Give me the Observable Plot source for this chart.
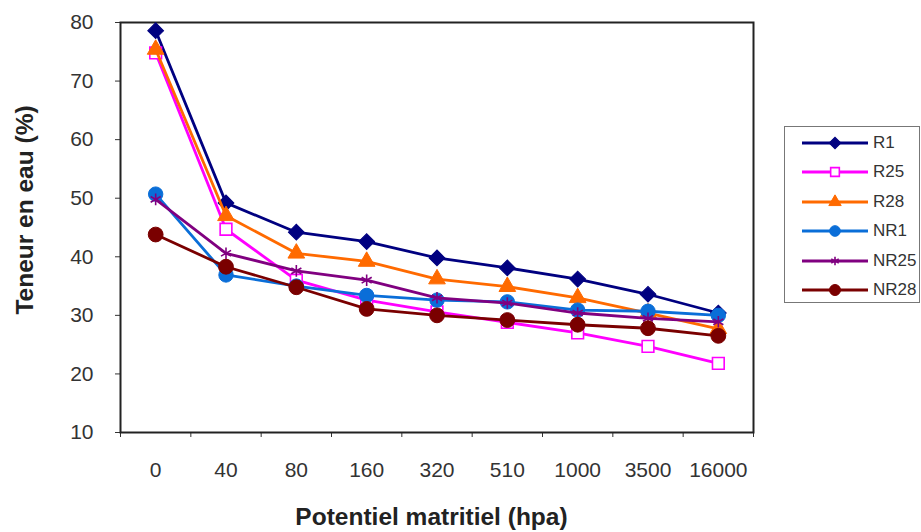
<!DOCTYPE html>
<html><head><meta charset="utf-8">
<script src="https://cdn.jsdelivr.net/npm/d3@7"></script>
<script src="https://cdn.jsdelivr.net/npm/@observablehq/plot@0.6"></script>
<style>
body{margin:0;background:#fff;font-family:"Liberation Sans",Arial,sans-serif;}
#chart{position:relative;width:921px;height:532px;overflow:hidden;}
#legend{position:absolute;left:784px;top:126px;width:136px;height:177px;border:1.5px solid #777;box-sizing:border-box;background:#fff;}
.row{position:absolute;left:0;height:28px;display:flex;align-items:center;}
.row span{font-size:17px;color:#333;margin-left:4px;}
</style></head><body><div id="chart"></div>
<script>
const categories = ["0","40","80","160","320","510","1000","3500","16000"];
const seriesNames = ["R1","R25","R28","NR1","NR25","NR28"];
const R1   = [78.6, 49.2, 44.2, 42.6, 39.8, 38.1, 36.2, 33.6, 30.4];
const R25  = [74.8, 44.7, 36.0, 32.6, 30.6, 28.8, 27.0, 24.7, 21.8];
const R28  = [75.4, 47.0, 40.6, 39.2, 36.2, 34.9, 33.0, 30.4, 27.7];
const NR1  = [50.7, 36.9, 35.0, 33.4, 32.6, 32.3, 30.9, 30.7, 30.0];
const NR25 = [49.8, 40.6, 37.6, 36.0, 33.0, 32.1, 30.4, 29.5, 28.9];
const NR28 = [43.8, 38.3, 34.8, 31.1, 30.0, 29.2, 28.4, 27.8, 26.5];
const yTicks = [10, 20, 30, 40, 50, 60, 70, 80];
const xTitle = "Potentiel matritiel (hpa)";
const yTitle = "Teneur en eau (%)";

const seriesValues = [R1, R25, R28, NR1, NR25, NR28];
const colors = ["#000080", "#FF00FF", "#FF6A00", "#0A6ED8", "#800080", "#7A0000"];
const styles = [
  {symbol: "square", r: 6.3, rotate: 45, fill: colors[0], stroke: colors[0], strokeWidth: 1},
  {symbol: "square", r: 6.6, fill: "#fff", stroke: colors[1], strokeWidth: 1.6},
  {symbol: "triangle", r: 6.2, fill: colors[2], stroke: colors[2], strokeWidth: 1},
  {symbol: "circle", r: 7.2, fill: colors[3], stroke: colors[3], strokeWidth: 1},
  {symbol: "asterisk", r: 5.5, fill: "none", stroke: colors[4], strokeWidth: 1.6},
  {symbol: "circle", r: 7.4, fill: colors[5], stroke: colors[5], strokeWidth: 1}
];

const rows = seriesNames.map((s, k) => seriesValues[k].map((v, i) => ({series: s, i, cat: categories[i], v})));

const marks = [
  Plot.axisY({ticks: yTicks, tickSize: 5, tickPadding: 22, fontSize: 21, label: null, stroke: "#333", fill: "#333"}),
  Plot.axisX({ticks: d3.range(categories.length), tickFormat: i => categories[i], tickSize: 0, tickPadding: 30, fontSize: 21, label: null, fill: "#333"}),
  Plot.axisX({ticks: d3.range(categories.length + 1).map(i => i - 0.5), tickFormat: () => "", tickSize: 5, label: null, stroke: "#333"}),
  Plot.frame({stroke: "#222", strokeWidth: 2})
];
rows.forEach((data, k) => {
  marks.push(Plot.line(data, {x: "i", y: "v", stroke: colors[k], strokeWidth: 2.8}));
  marks.push(Plot.dot(data, {x: "i", y: "v", ...styles[k]}));
});

const plot = Plot.plot({
  width: 921, height: 532,
  marginLeft: 120, marginRight: 168, marginTop: 22, marginBottom: 100,
  x: {type: "linear", domain: [-0.5, categories.length - 0.5]},
  y: {domain: [10, 80]},
  style: {fontFamily: "'Liberation Sans', Arial, sans-serif", background: "#fff"},
  marks
});
const chart = document.getElementById("chart");
chart.appendChild(plot);

const svg = d3.select(plot);
const xr = plot.scale("x").range, yr = plot.scale("y").range;
svg.append("text").text(xTitle)
  .attr("x", (xr[0] + xr[1]) / 2 - 5).attr("y", 525)
  .attr("text-anchor", "middle").attr("font-size", 24.5).attr("font-weight", "bold").attr("fill", "#222");
svg.append("text").text(yTitle)
  .attr("transform", `translate(33,${(yr[0] + yr[1]) / 2 - 17}) rotate(-90)`)
  .attr("text-anchor", "middle").attr("font-size", 24.5).attr("font-weight", "bold").attr("fill", "#222");

// legend
const legend = d3.select(chart).append("div").attr("id", "legend");
seriesNames.forEach((s, k) => {
  const row = legend.append("div").attr("class", "row").style("top", (2 + k * 29.4) + "px");
  const sv = row.append("svg").attr("width", 84).attr("height", 28);
  sv.append("line").attr("x1", 17).attr("x2", 83).attr("y1", 14).attr("y2", 14)
    .attr("stroke", colors[k]).attr("stroke-width", 2.8);
  const st = styles[k];
  const symMap = {square: d3.symbolSquare, triangle: d3.symbolTriangle, circle: d3.symbolCircle, asterisk: d3.symbolAsterisk};
  sv.append("path").attr("d", d3.symbol(symMap[st.symbol], Math.PI * st.r * st.r * 0.55)())
    .attr("transform", `translate(50,14) rotate(${st.rotate || 0})`)
    .attr("fill", st.fill).attr("stroke", st.stroke).attr("stroke-width", st.strokeWidth);
  row.append("span").text(s);
});
</script>
</body></html>
